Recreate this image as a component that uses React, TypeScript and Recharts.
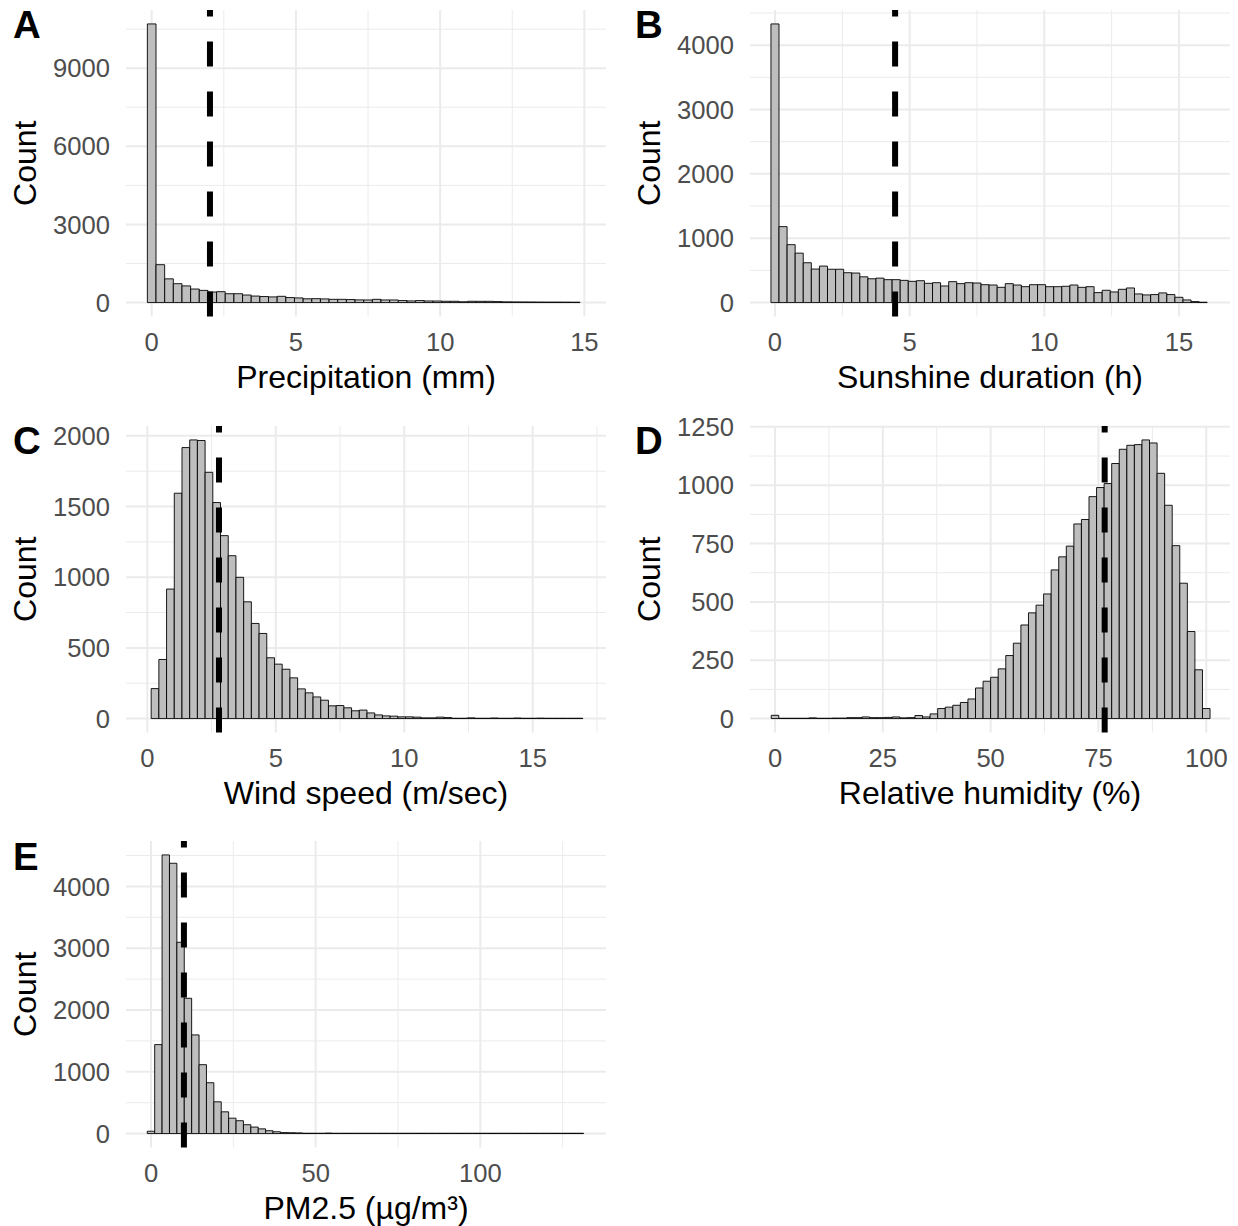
import React from 'react';
import { ComposedChart, Bar, XAxis, YAxis, CartesianGrid, ReferenceLine, Label } from 'recharts';

const FONT = "'Liberation Sans', Arial, Helvetica, sans-serif";

// ---------- Panel A: precipitation ----------
const precipTitle = 'Precipitation (mm)';
const precipBinStart = 0;
const precipBinWidth = 0.3;
const precipCounts = [
  10700, 1455, 910, 725, 640, 520, 468, 405, 418, 340,
  340, 290, 250, 231, 218, 240, 192, 178, 145, 150,
  141, 125, 125, 115, 103, 100, 125, 100, 100, 77,
  64, 77, 62, 60, 50, 50, 30, 50, 48, 48,
  38, 28, 26, 24, 22, 20, 18, 18, 16, 14,
];
const precipMean = 2.02;
const precipXTicks = [0, 5, 10, 15];
const precipXMinor = [2.5, 7.5, 12.5];
const precipYTicks = [0, 3000, 6000, 9000];
const precipYMinor = [1500, 4500, 7500, 10500];

// ---------- Panel B: sunshine ----------
const sunTitle = 'Sunshine duration (h)';
const sunBinStart = 0;
const sunBinWidth = 0.3;
const sunCounts = [
  4330, 1180, 900, 768, 619, 521, 567, 518, 518, 464,
  459, 400, 370, 380, 356, 356, 345, 330, 340, 299,
  309, 258, 325, 294, 309, 304, 278, 273, 237, 294,
  273, 247, 278, 278, 247, 247, 253, 273, 237, 247,
  155, 191, 165, 206, 227, 134, 119, 124, 150, 124,
  82, 41, 15, 5,
];
const sunMean = 4.46;
const sunXTicks = [0, 5, 10, 15];
const sunXMinor = [2.5, 7.5, 12.5];
const sunYTicks = [0, 1000, 2000, 3000, 4000];
const sunYMinor = [500, 1500, 2500, 3500, 4500];

// ---------- Panel C: wind speed ----------
const windTitle = 'Wind speed (m/sec)';
const windBinStart = 0.3;
const windBinWidth = 0.3;
const windCounts = [
  212, 418, 916, 1594, 1917, 1971, 1967, 1742, 1528, 1294,
  1152, 999, 826, 673, 602, 430, 385, 349, 288, 210,
  182, 153, 130, 90, 92, 76, 55, 60, 40, 26,
  19, 17, 12, 12, 10, 5, 5, 10, 7, 2,
  1, 5, 2, 1, 4, 2, 2, 4, 1, 1,
  3, 1, 1, 2, 1, 1,
];
const windMean = 2.79;
const windXTicks = [0, 5, 10, 15];
const windXMinor = [2.5, 7.5, 12.5, 17.5];
const windYTicks = [0, 500, 1000, 1500, 2000];
const windYMinor = [250, 750, 1250, 1750];

// ---------- Panel D: relative humidity ----------
const rhTitle = 'Relative humidity (%)';
const rhBinStart = 0;
const rhBinWidth = 100 / 57;
const rhCounts = [
  14, 0, 1, 1, 1, 3, 1, 1, 2, 2,
  4, 4, 7, 4, 4, 5, 7, 3, 4, 13,
  7, 20, 43, 49, 57, 69, 84, 131, 160, 177,
  213, 270, 323, 401, 453, 486, 534, 637, 693, 739,
  834, 853, 951, 990, 1007, 1093, 1154, 1171, 1174, 1194,
  1181, 1051, 914, 741, 580, 373, 209, 43,
];
const rhMean = 76.44;
const rhXTicks = [0, 25, 50, 75, 100];
const rhXMinor = [12.5, 37.5, 62.5, 87.5];
const rhYTicks = [0, 250, 500, 750, 1000, 1250];
const rhYMinor = [125, 375, 625, 875, 1125];

// ---------- Panel E: PM2.5 ----------
const pmTitle = 'PM2.5 (µg/m³)';
const pmBinStart = 0;
const pmBinWidth = 2.246;
const pmCounts = [
  38, 1440, 4510, 4375, 3096, 2190, 1597, 1115, 823, 514,
  352, 249, 208, 143, 105, 76, 46, 29, 16, 14,
  11, 5, 5, 4, 8, 3, 2, 3, 1, 2,
  1, 1, 2, 1, 0, 1, 1, 2, 1, 1,
  0, 1, 1, 1, 0, 1, 1, 0, 1, 0,
  1, 1, 0, 0, 1, 0, 1, 0, 1,
];
const pmMean = 10.0;
const pmXTicks = [0, 50, 100];
const pmXMinor = [25, 75, 125];
const pmYTicks = [0, 1000, 2000, 3000, 4000];
const pmYMinor = [500, 1500, 2500, 3500, 4500];

// ---------- layout ----------
const YAXIS_W = 126;
const XAXIS_H = 84;
const MARGIN_TOP = 30;
const PLOT_H = 306.5;
const CHART_H = MARGIN_TOP + PLOT_H + XAXIS_H;
const COL_LEFT = [0, 624];
const COL_WIDTH = [619, 614];
const COL_MR = [13, 8];
const PLOT_TOP = [9.5, 425.6, 841.4];

type Cfg = {
  tag: string; title: string; counts: number[]; binStart: number; binWidth: number;
  mean: number; xDomain: [number, number]; xTicks: number[]; xMinor: number[];
  yTicks: number[]; yMinor: number[]; col: number; row: number;
};

const panels: Cfg[] = [
  { tag: 'A', title: precipTitle, counts: precipCounts, binStart: precipBinStart, binWidth: precipBinWidth, mean: precipMean,
    xDomain: [-0.891, 15.75], xTicks: precipXTicks, xMinor: precipXMinor, yTicks: precipYTicks, yMinor: precipYMinor, col: 0, row: 0 },
  { tag: 'B', title: sunTitle, counts: sunCounts, binStart: sunBinStart, binWidth: sunBinWidth, mean: sunMean,
    xDomain: [-0.928, 16.896], xTicks: sunXTicks, xMinor: sunXMinor, yTicks: sunYTicks, yMinor: sunYMinor, col: 1, row: 0 },
  { tag: 'C', title: windTitle, counts: windCounts, binStart: windBinStart, binWidth: windBinWidth, mean: windMean,
    xDomain: [-0.829, 17.85], xTicks: windXTicks, xMinor: windXMinor, yTicks: windYTicks, yMinor: windYMinor, col: 0, row: 1 },
  { tag: 'D', title: rhTitle, counts: rhCounts, binStart: rhBinStart, binWidth: rhBinWidth, mean: rhMean,
    xDomain: [-5.797, 105.5], xTicks: rhXTicks, xMinor: rhXMinor, yTicks: rhYTicks, yMinor: rhYMinor, col: 1, row: 1 },
  { tag: 'E', title: pmTitle, counts: pmCounts, binStart: pmBinStart, binWidth: pmBinWidth, mean: pmMean,
    xDomain: [-7.59, 138.17], xTicks: pmXTicks, xMinor: pmXMinor, yTicks: pmYTicks, yMinor: pmYMinor, col: 0, row: 2 },
];

const tickStyle = { fontSize: 25.6, fill: '#4D4D4D', fontFamily: FONT };

function Panel({ cfg }: { cfg: Cfg }) {
  const data = cfg.counts.map((c, i) => ({ x: cfg.binStart + i * cfg.binWidth, c }));
  const M = Math.max(...cfg.counts);
  const yDomain: [number, number] = [-0.05 * M, 1.05 * M];
  const width = COL_WIDTH[cfg.col];
  const mr = COL_MR[cfg.col];
  const plotW = width - YAXIS_W - mr;
  const bandPx = (cfg.binWidth * plotW) / (cfg.xDomain[1] - cfg.xDomain[0]);
  return (
    <div style={{ position: 'absolute', left: COL_LEFT[cfg.col], top: PLOT_TOP[cfg.row] - MARGIN_TOP }}>
      <ComposedChart
        width={width}
        height={CHART_H}
        data={data}
        margin={{ top: MARGIN_TOP, right: mr, bottom: 0, left: 0 }}
        style={{ fontFamily: FONT }}
      >
        <CartesianGrid stroke="#EBEBEB" strokeWidth={1} horizontalValues={cfg.yMinor} verticalValues={cfg.xMinor} />
        <CartesianGrid stroke="#EBEBEB" strokeWidth={2} horizontalValues={cfg.yTicks} verticalValues={cfg.xTicks} />
        <XAxis
          type="number"
          dataKey="x"
          domain={cfg.xDomain}
          allowDataOverflow
          ticks={cfg.xTicks}
          interval={0}
          axisLine={false}
          tickLine={false}
          tickSize={0}
          tickMargin={16}
          height={XAXIS_H}
          tick={tickStyle}
        >
          <Label value={cfg.title} position="insideBottom" offset={12.5} fill="#000" fontSize={32} fontFamily={FONT} />
        </XAxis>
        <YAxis
          type="number"
          domain={yDomain}
          allowDataOverflow
          ticks={cfg.yTicks}
          interval={0}
          axisLine={false}
          tickLine={false}
          tickSize={0}
          tickMargin={16}
          width={YAXIS_W}
          tick={tickStyle}
        >
          <Label
            value="Count"
            angle={-90}
            position="insideLeft"
            offset={25}
            fill="#000"
            fontSize={32}
            fontFamily={FONT}
            style={{ textAnchor: 'middle' }}
          />
        </YAxis>
        <Bar
          dataKey="c"
          fill="#BEBEBE"
          stroke="#000"
          strokeWidth={0.9}
          minPointSize={0.3}
          barSize={bandPx - 0.02}
          isAnimationActive={false}
        />
        <ReferenceLine x={cfg.mean} stroke="#000" strokeWidth={6} strokeDasharray="25 25" />
      </ComposedChart>
    </div>
  );
}

const TAG_X = [13, 635];

export default function App() {
  return (
    <div
      style={{
        position: 'absolute', left: 0, top: 0, width: 1238, height: 1226,
        overflow: 'hidden', background: '#fff', fontFamily: FONT,
      }}
    >
      {panels.map((p) => (
        <Panel key={p.tag} cfg={p} />
      ))}
      <svg
        width={1238}
        height={1226}
        style={{ position: 'absolute', left: 0, top: 0, pointerEvents: 'none' }}
      >
        {panels.map((p) => (
          <text
            key={p.tag}
            x={TAG_X[p.col]}
            y={PLOT_TOP[p.row] + 28.5}
            fontSize={38.4}
            fontWeight="bold"
            fontFamily={FONT}
            fill="#000"
          >
            {p.tag}
          </text>
        ))}
      </svg>
    </div>
  );
}
